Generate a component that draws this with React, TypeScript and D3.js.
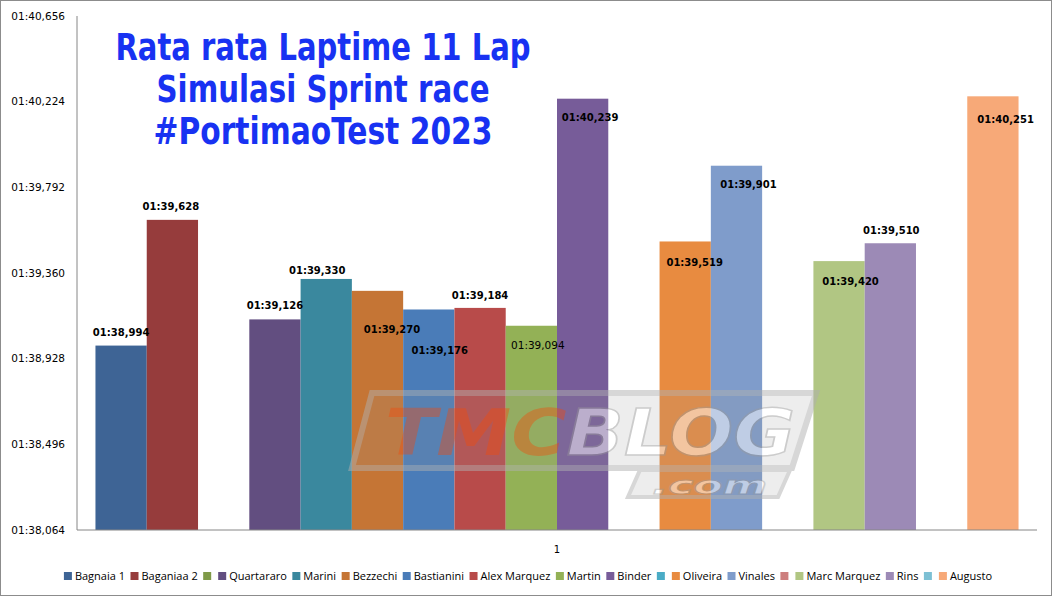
import React, { useMemo } from 'react';
import * as d3 from 'd3';

// lap time averages in seconds (01:38,994 -> 98.994); null = empty legend slot
const RIDERS = [
  'Bagnaia 1', 'Baganiaa 2', '', 'Quartararo', 'Marini', 'Bezzechi', 'Bastianini',
  'Alex Marquez', 'Martin', 'Binder', ' ', 'Oliveira', 'Vinales', '  ',
  'Marc Marquez', 'Rins', '   ', 'Augusto',
];
const LAPTIMES: (number | null)[] = [
  98.994, 99.628, null, 99.126, 99.330, 99.270, 99.176,
  99.184, 99.094, 100.239, null, 99.519, 99.901, null,
  99.420, 99.510, null, 100.251,
];
const CATEGORIES = ['1'];
const Y_TICKS = [98.064, 98.496, 98.928, 99.360, 99.792, 100.224, 100.656];
const TITLE_LINES = ['Rata rata Laptime 11 Lap', 'Simulasi Sprint race', '#PortimaoTest 2023'];

const COLORS = [
  '#3E6495', '#963C3C', '#7F9A48', '#624E80', '#3A889E', '#C57535', '#4A7CB8',
  '#B84B4A', '#93B156', '#775C99', '#4AACC6', '#E88B40', '#7F9CCB', '#CD7F7E',
  '#B1C683', '#9C8AB6', '#7DC0D4', '#F7A978',
];

// manual label nudges, relative to bar top centre (as dragged in the original)
const LABEL_NUDGE: [number, number][] = [
  [0, -13], [-1.5, -13], [0, 0], [0, -14], [-9, -9], [14.5, 39], [11, 41],
  [0, -13], [6.5, 19], [7.5, 19], [0, 0], [9.5, 21], [12, 19], [0, 0],
  [11.5, 20], [1, -13], [0, 0], [12.7, 23.5],
];

const W = 1053;
const H = 598;
const M = { left: 77, right: 1037, top: 16, bottom: 530 };
const LABEL_FONT = '"DejaVu Sans", Verdana, sans-serif';
const LEGEND_FONT = '"Open Sans", "Liberation Sans", Arial, sans-serif';
const LEGEND_SIZE = 11;

function fmtTime(v: number) {
  const ms = Math.round(v * 1000);
  const m = Math.floor(ms / 60000);
  const s = Math.floor((ms % 60000) / 1000);
  const r = ms % 1000;
  return `${String(m).padStart(2, '0')}:${String(s).padStart(2, '0')},${String(r).padStart(3, '0')}`;
}

export default function App() {
  const y = d3.scaleLinear().domain([Y_TICKS[0], Y_TICKS[Y_TICKS.length - 1]]).range([M.bottom, M.top]);
  const x0 = d3.scaleBand<string>().domain(CATEGORIES).range([M.left, M.right]).paddingOuter(0.02).paddingInner(0);
  const x1 = d3.scaleBand<string>().domain(RIDERS).range([0, x0.bandwidth()]).padding(0);

  const legend = useMemo(() => {
    const ctx = document.createElement('canvas').getContext('2d')!;
    ctx.font = `${LEGEND_SIZE}px ${LEGEND_FONT}`;
    let cur = 0;
    const items = RIDERS.map((name, i) => {
      const label = name.trim();
      const tw = label ? ctx.measureText(label).width : 0;
      const item = { x: cur, label, color: COLORS[i] };
      cur += label ? 8 + 3 + tw + 5.5 : 8 + 7;
      return item;
    });
    const total = cur - 5.5;
    const start = 528 - total / 2;
    return items.map((it) => ({ ...it, x: it.x + start }));
  }, []);

  return (
    <svg width={W} height={H} style={{ position: 'absolute', left: 0, top: 0, background: '#fff' }}>
      <rect x={0.5} y={0.5} width={1051} height={595} fill="#fff" stroke="#8c8c8c" />

      {/* bars */}
      {CATEGORIES.map((cat) => (
        <g key={cat} transform={`translate(${x0(cat)},0)`}>
          {RIDERS.map((name, i) => {
            const v = LAPTIMES[i];
            if (v == null) return null;
            return (
              <rect
                key={name}
                x={x1(name)}
                y={y(v)}
                width={x1.bandwidth()}
                height={M.bottom - y(v)}
                fill={COLORS[i]}
              />
            );
          })}
        </g>
      ))}

      {/* watermark */}
      <g opacity={0.5} pointerEvents="none">
        <polygon points="372,393 816,393 792,468 352,468" fill="#9a9a9a" fillOpacity={0.35} stroke="#b0b0b0" strokeWidth={6} />
        <polygon points="640,470 790,470 778,497 628,497" fill="#9a9a9a" fillOpacity={0.35} stroke="#b0b0b0" strokeWidth={4} />
        <text
          x={385}
          y={455}
          fontFamily='"DejaVu Sans", sans-serif'
          fontWeight={900}
          fontStyle="italic"
          fontSize={64}
          textLength={410}
          lengthAdjust="spacingAndGlyphs"
        >
          <tspan fill="#e05a28">TMC</tspan>
          <tspan fill="#ffffff" stroke="#9a9a9a" strokeWidth={1.5}>BLOG</tspan>
        </text>
        <text
          x={652}
          y={494}
          fontFamily='"DejaVu Sans", sans-serif'
          fontWeight={900}
          fontStyle="italic"
          fontSize={25}
          textLength={115}
          lengthAdjust="spacingAndGlyphs"
          fill="#ffffff"
          stroke="#9a9a9a"
          strokeWidth={1}
        >
          .com
        </text>
      </g>

      {/* data labels */}
      {CATEGORIES.map((cat) => (
        <g key={cat} transform={`translate(${x0(cat)},0)`}>
          {RIDERS.map((name, i) => {
            const v = LAPTIMES[i];
            if (v == null) return null;
            const [dx, dy] = LABEL_NUDGE[i];
            const cx = (x1(name) ?? 0) + x1.bandwidth() / 2 + dx;
            return (
              <text
                key={name}
                x={cx}
                y={y(v) + dy}
                dy="0.36em"
                textAnchor="middle"
                fontFamily={LABEL_FONT}
                fontSize={name === 'Martin' ? 10.5 : 10}
                fontWeight={name === 'Martin' ? 400 : 700}
                fill="#000"
              >
                {fmtTime(v)}
              </text>
            );
          })}
        </g>
      ))}

      {/* axes */}
      <line x1={M.left} x2={M.left} y1={M.top} y2={M.bottom} stroke="#868686" />
      <line x1={M.left} x2={M.right} y1={M.bottom} y2={M.bottom} stroke="#868686" />
      {Y_TICKS.map((t) => (
        <text
          key={t}
          x={65}
          y={y(t)}
          dy="0.36em"
          textAnchor="end"
          fontFamily={LABEL_FONT}
          fontSize={10.5}
          fill="#000"
        >
          {fmtTime(t)}
        </text>
      ))}
      {CATEGORIES.map((cat) => (
        <text
          key={cat}
          x={(x0(cat) ?? 0) + x0.bandwidth() / 2}
          y={549}
          dy="0.36em"
          textAnchor="middle"
          fontFamily={LABEL_FONT}
          fontSize={10}
          fill="#000"
        >
          {cat}
        </text>
      ))}

      {/* title */}
      {TITLE_LINES.map((line, i) => (
        <text
          key={line}
          x={323}
          y={60 + i * 42}
          textAnchor="middle"
          fontFamily='"Liberation Sans Narrow", "DejaVu Sans Condensed", "Roboto", sans-serif'
          fontWeight={700}
          fontSize={37}
          fill="#1832f2"
          textLength={[415, 333, 339][i]}
          lengthAdjust="spacingAndGlyphs"
        >
          {line}
        </text>
      ))}

      {/* legend */}
      {legend.map((it, i) => (
        <g key={i}>
          <rect x={it.x} y={572} width={8} height={8} fill={it.color} />
          {it.label && (
            <text x={it.x + 11} y={580} fontFamily={LEGEND_FONT} fontSize={LEGEND_SIZE} fill="#000">
              {it.label}
            </text>
          )}
        </g>
      ))}
    </svg>
  );
}
